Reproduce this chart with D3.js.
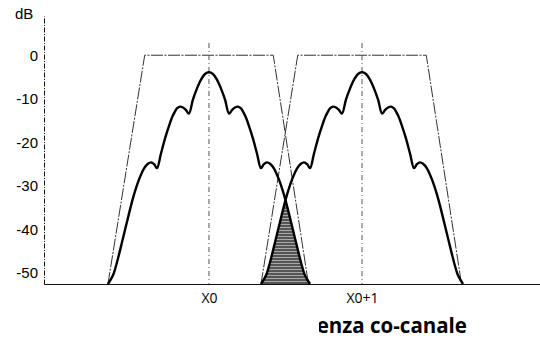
<!DOCTYPE html>
<html>
<head>
<meta charset="utf-8">
<script src="https://cdn.jsdelivr.net/npm/d3@7"></script>
<style>
  body { margin: 0; background: #fff; }
  svg { display: block; }
</style>
</head>
<body>
<svg id="chart" width="540" height="338"></svg>
<script>
// channel positions and labels on the frequency axis
const channelCenters = [0, 1];
const channelLabels = ["X0", "X0+1"];
const yTicks = [0, -10, -20, -30, -40, -50];

// spectrum shape of one channel: offset from centre (channel units) and level (dB)
const profileOffsets = [
  -0.66, -0.627, -0.601, -0.562, -0.523, -0.49, -0.458, -0.425, -0.399, -0.379,
  -0.359, -0.34, -0.314, -0.288, -0.261, -0.235, -0.209, -0.19, -0.17, -0.15,
  -0.131, -0.105, -0.078, -0.052, -0.026, 0,
  0.026, 0.052, 0.078, 0.105, 0.131, 0.15, 0.17, 0.19, 0.209, 0.235, 0.261,
  0.288, 0.314, 0.34, 0.359, 0.379, 0.399, 0.425, 0.458, 0.49, 0.523, 0.562,
  0.601, 0.627, 0.66,
];
const profileDb = [
  -52.5, -50.5, -47.5, -42, -36.4, -32, -28.6, -26, -24.9, -24.6,
  -25, -25.9, -22.6, -19.2, -16.2, -13.8, -12.2, -11.8, -12, -12.6,
  -13.4, -10.2, -7.6, -5.6, -4.3, -3.9,
  -4.3, -5.6, -7.6, -10.2, -13.4, -12.6, -12, -11.8, -12.2, -13.8, -16.2,
  -19.2, -22.6, -25.9, -25, -24.6, -24.9, -26, -28.6, -32, -36.4, -42,
  -47.5, -50.5, -52.5,
];

// spectral mask (trapezoid) around each channel
const maskOffsets = [-0.66, -0.42, 0.42, 0.65];
const maskDb = [-52.5, 0, 0, -52.5];

const caption = "Interferenza co-canale";

const svg = d3.select("#chart");

const x = d3.scaleLinear().domain([-1.078, 2.163]).range([44, 540]);
const y = d3.scaleLinear().domain([-52.5, 9]).range([284, 16]);

const profile = d3.scaleLinear().domain(profileOffsets).range(profileDb).clamp(true);

// hatched fill for the interference area
const defs = svg.append("defs");
const pat = defs
  .append("pattern")
  .attr("id", "hatch")
  .attr("patternUnits", "userSpaceOnUse")
  .attr("width", 6)
  .attr("height", 3);
pat.append("rect").attr("width", 6).attr("height", 3).attr("fill", "#555");
pat.append("rect").attr("y", 2).attr("width", 6).attr("height", 1).attr("fill", "#a8a8a8");

defs
  .append("clipPath")
  .attr("id", "capClip")
  .append("rect")
  .attr("x", 319)
  .attr("y", 300)
  .attr("width", 221)
  .attr("height", 38);

// overlap area: below both spectra
const overlap = d3.range(1 - 0.66, 0.66 + 0.001, 0.004).map((v) => ({
  f: v,
  db: Math.min(profile(v - channelCenters[0]), profile(v - channelCenters[1])),
}));

svg
  .append("path")
  .datum(overlap)
  .attr("fill", "url(#hatch)")
  .attr(
    "d",
    d3
      .area()
      .x((d) => x(d.f))
      .y0(y(-52.5))
      .y1((d) => y(d.db))
  );

// masks
const maskLine = d3
  .line()
  .x((d) => x(d[0]))
  .y((d) => y(d[1]));

channelCenters.forEach((c) => {
  svg
    .append("path")
    .datum(maskOffsets.map((o, i) => [c + o, maskDb[i]]))
    .attr("fill", "none")
    .attr("stroke", "#333")
    .attr("stroke-width", 1)
    .attr("stroke-dasharray", "12,1.5,2,1.5")
    .attr("d", maskLine);
});

// centre lines
svg
  .selectAll(".centre")
  .data(channelCenters)
  .enter()
  .append("line")
  .attr("class", "centre")
  .attr("x1", (d) => x(d))
  .attr("x2", (d) => x(d))
  .attr("y1", 43)
  .attr("y2", y(-52.5))
  .attr("stroke", "#555")
  .attr("stroke-width", 1)
  .attr("stroke-dasharray", "5,3,1,3");

// spectra
const specLine = d3
  .line()
  .x((d) => x(d[0]))
  .y((d) => y(d[1]))
  .curve(d3.curveCatmullRom.alpha(0.5));

channelCenters.forEach((c) => {
  svg
    .append("path")
    .datum(profileOffsets.map((o, i) => [c + o, profileDb[i]]))
    .attr("fill", "none")
    .attr("stroke", "#000")
    .attr("stroke-width", 2.4)
    .attr("stroke-linejoin", "round")
    .attr("d", specLine);
});

// axes
const yAxis = svg
  .append("g")
  .attr("transform", `translate(${x(-1.078)},0)`)
  .call(d3.axisLeft(y).tickValues(yTicks).tickSize(0).tickPadding(6).tickFormat(d3.format("d")));
yAxis.select(".domain").attr("stroke", "#111").attr("stroke-dasharray", "5,1.5,1,1.5");
yAxis
  .selectAll("text")
  .attr("font-family", "'Liberation Sans', Arial, sans-serif")
  .attr("font-size", 15)
  .attr("fill", "#000")
  .text((d) => (d < 0 ? "-" + -d : d));

const xAxis = svg
  .append("g")
  .attr("transform", `translate(0,${y(-52.5)})`)
  .call(
    d3
      .axisBottom(x)
      .tickValues(channelCenters)
      .tickSize(0)
      .tickPadding(9)
      .tickFormat((d, i) => channelLabels[i])
  );
xAxis.select(".domain").attr("stroke", "#111").attr("stroke-width", 1.2);
xAxis
  .selectAll("text")
  .attr("font-family", "'Open Sans', sans-serif")
  .attr("font-size", 14)
  .attr("fill", "#000");

svg
  .append("text")
  .attr("x", 15)
  .attr("y", 19)
  .attr("font-family", "'Liberation Sans', Arial, sans-serif")
  .attr("font-size", 15)
  .attr("fill", "#000")
  .text("dB");

svg
  .append("text")
  .attr("clip-path", "url(#capClip)")
  .attr("x", 467)
  .attr("y", 333)
  .attr("text-anchor", "end")
  .attr("font-family", "'Open Sans', sans-serif")
  .attr("font-weight", "bold")
  .attr("font-size", 20.5)
  .attr("fill", "#000")
  .text(caption);
</script>
</body>
</html>
